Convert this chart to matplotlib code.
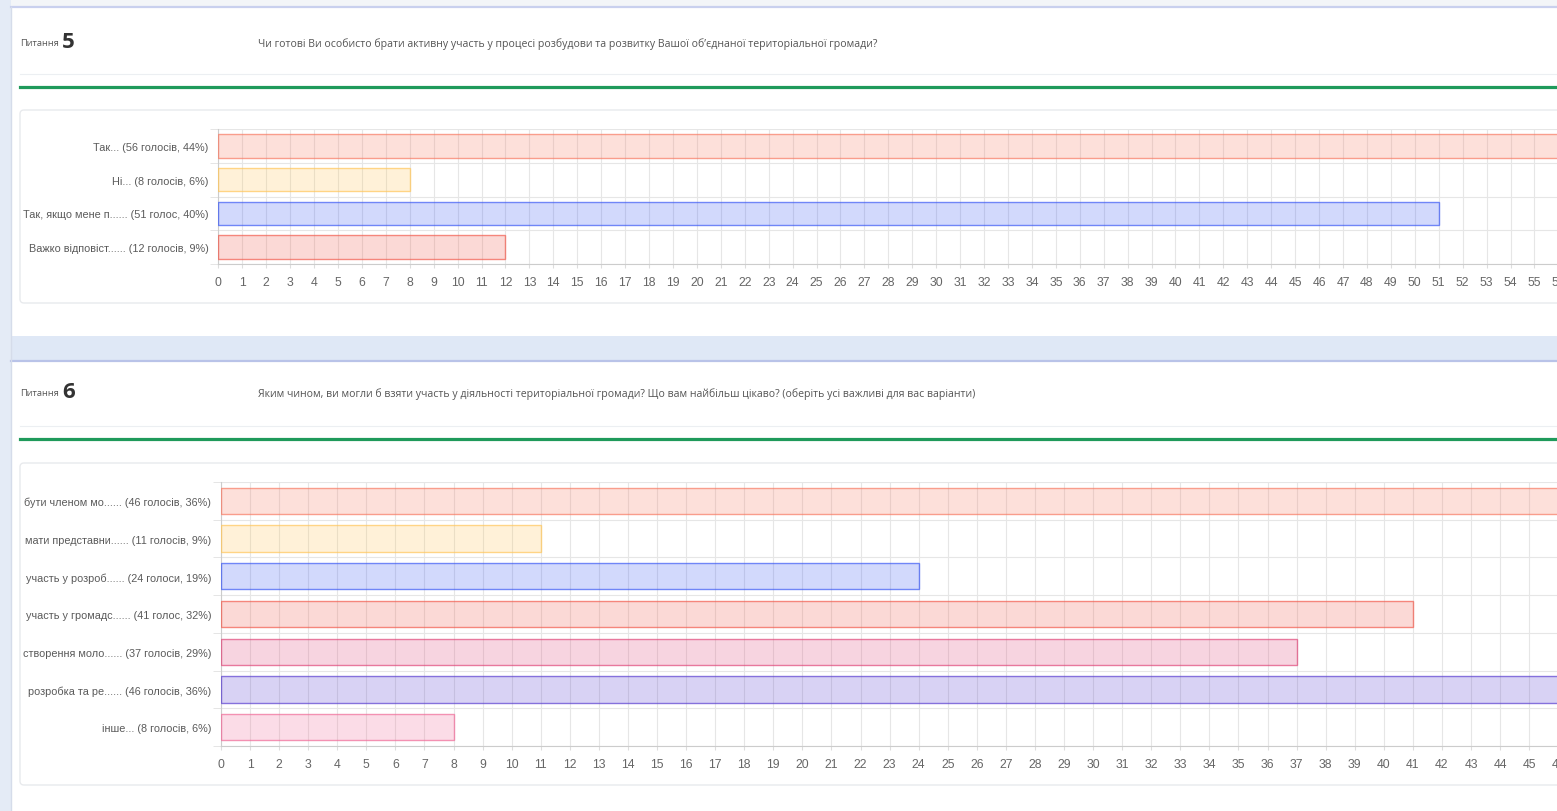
import matplotlib
matplotlib.use("Agg")
import matplotlib.pyplot as plt
from matplotlib import font_manager
from matplotlib.colors import to_rgba
from matplotlib.patches import Rectangle, FancyBboxPatch
import numpy as np

# --- data ---
q5_title = "Чи готові Ви особисто брати активну участь у процесі розбудови та розвитку Вашої об’єднаної територіальної громади?"
q5_labels = ["Так... (56 голосів, 44%)",
             "Ні... (8 голосів, 6%)",
             "Так, якщо мене п...... (51 голос, 40%)",
             "Важко відповіст...... (12 голосів, 9%)"]
q5_values = [56, 8, 51, 12]
q5_colors = ["#f87a63", "#ffc65a", "#3d5bf5", "#f25c4e"]

q6_title = ("Яким чином, ви могли б взяти участь у діяльності територіальної громади? "
            "Що вам найбільш цікаво? (оберіть усі важливі для вас варіанти)")
q6_labels = ["бути членом мо...... (46 голосів, 36%)",
             "мати представни...... (11 голосів, 9%)",
             "участь у розроб...... (24 голоси, 19%)",
             "участь у громадс...... (41 голос, 32%)",
             "створення моло...... (37 голосів, 29%)",
             "розробка та ре...... (46 голосів, 36%)",
             "інше... (8 голосів, 6%)"]
q6_values = [46, 11, 24, 41, 37, 46, 8]
q6_colors = ["#f87a63", "#ffc65a", "#3d5bf5", "#f25c4e", "#e0487a", "#5a3fd0", "#f06a98"]

W, H = 1557, 812

names = {f.name for f in font_manager.fontManager.ttflist}
narrow = "Liberation Sans Narrow" if "Liberation Sans Narrow" in names else "Liberation Sans"
plt.rcParams['font.family'] = [narrow, 'DejaVu Sans']
head_font = ["Open Sans", "DejaVu Sans"]

fig = plt.figure(figsize=(W / 100, H / 100), dpi=100, facecolor="#f3f5f8")


def frac(x0, y0, x1, y1):
    return [x0 / W, 1 - y1 / H, (x1 - x0) / W, (y1 - y0) / H]


# page background drawn in pixel coordinates
bg = fig.add_axes([0, 0, 1, 1])
bg.set_xlim(0, W)
bg.set_ylim(H, 0)
bg.axis('off')
bg.add_patch(Rectangle((0, 0), 11, H, color="#e4ebf6", lw=0))
bg.add_patch(Rectangle((11, 8), W, 329, color="white", lw=0))
bg.add_patch(Rectangle((11, 337), W, 24, color="#dfe8f6", lw=0))
bg.add_patch(Rectangle((11, 363), W, H, color="white", lw=0))
bg.plot([11, W], [8, 8], color="#c9d0ee", lw=1.6)
bg.plot([11, W], [362, 362], color="#b9c3e8", lw=1.6)
bg.plot([11, 11], [8, H], color="#d5dcea", lw=1)

for green_y, text_y, num, title in [(88, 44, "5", q5_title), (440, 394, "6", q6_title)]:
    bg.plot([20, W], [green_y - 13, green_y - 13], color="#eceff2", lw=0.8)
    bg.plot([20, W], [green_y, green_y], color="#1f9a5b", lw=2.3)
    bg.text(20, text_y, "Питання", family=head_font, fontsize=6.7,
            color="#555555", va="center")
    bg.text(62, text_y - 1, num, family=head_font, fontsize=16,
            fontweight="bold", color="#333333", va="center")
    bg.text(258, text_y, title, family=head_font, fontsize=7.6,
            color="#555555", va="center")

bg.add_patch(FancyBboxPatch((20, 111), W, 193, boxstyle="round,pad=0,rounding_size=4",
                            fc="none", ec="#e8eaed", lw=1))
bg.add_patch(FancyBboxPatch((20, 464), W, 322, boxstyle="round,pad=0,rounding_size=4",
                            fc="none", ec="#e8eaed", lw=1))


def draw_chart(rect, xmax, labels, values, colors):
    ax = fig.add_axes(rect)
    ax.set_facecolor("none")
    y = np.arange(len(values))
    fills = [to_rgba(c, 0.23) for c in colors]
    edges = [to_rgba(c, 0.7) for c in colors]
    ax.barh(y, values, height=0.7, color=fills, edgecolor=edges, linewidth=1, zorder=3)
    ax.set_xlim(0, xmax)
    ax.set_ylim(len(values) - 0.5, -0.5)
    ax.set_xticks(np.arange(0, xmax + 1))
    ax.set_yticks(y)
    ax.set_yticklabels(labels)
    ax.set_yticks(np.arange(len(values) + 1) - 0.5, minor=True)
    ax.grid(axis='x', which='major', color="#e6e6e6", lw=0.8, zorder=0)
    ax.grid(axis='y', which='minor', color="#e6e6e6", lw=0.8, zorder=0)
    ax.tick_params(axis='y', which='major', length=0, pad=7, labelsize=7.8, labelcolor="#5a5a5a")
    ax.tick_params(axis='y', which='minor', length=6, color="#e0e0e0")
    ax.tick_params(axis='x', length=3, color="#dddddd", pad=6, labelsize=8.8, labelcolor="#666666")
    for side in ['top', 'right']:
        ax.spines[side].set_visible(False)
    ax.spines['left'].set_color("#cccccc")
    ax.spines['bottom'].set_color("#cccccc")
    return ax


u5 = 23.93
draw_chart(frac(218.3, 130, 218.3 + 56 * u5, 265), 56, q5_labels, q5_values, q5_colors)
u6 = 29.07
draw_chart(frac(221, 483, 221 + 46 * u6, 747), 46, q6_labels, q6_values, q6_colors)

fig.savefig("out.png", dpi=100, facecolor=fig.get_facecolor())
